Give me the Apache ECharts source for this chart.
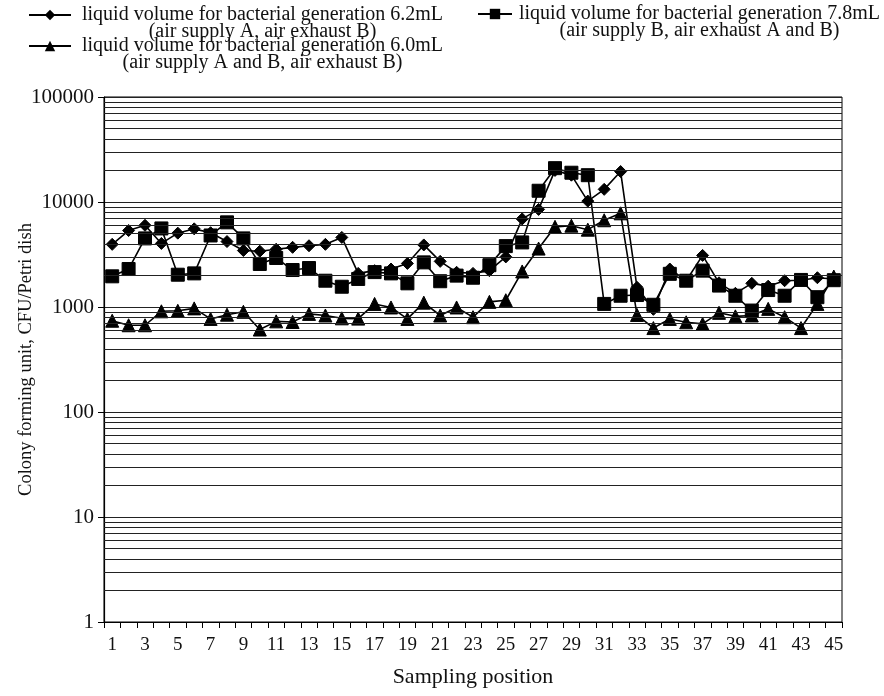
<!DOCTYPE html>
<html>
<head>
<meta charset="utf-8">
<script src="https://cdn.jsdelivr.net/npm/echarts@6/dist/echarts.min.js"></script>
<style>
  html, body { margin: 0; padding: 0; background: #fff; }
  #chart { width: 884px; height: 696px; }
</style>
</head>
<body>
<div id="chart"></div>
<script>
// Sampling positions 1..45
const positions = ['1','2','3','4','5','6','7','8','9','10','11','12','13','14','15',
  '16','17','18','19','20','21','22','23','24','25','26','27','28','29','30',
  '31','32','33','34','35','36','37','38','39','40','41','42','43','44','45'];

// CFU per Petri dish, 6.2 mL (air supply A, air exhaust B)
const vol62 = [3950, 5350, 6000, 4030, 5050, 5550, 5100, 4200, 3450, 3400,
  3550, 3700, 3830, 3950, 4600, 2090, 2220, 2300, 2600, 3900,
  2720, 2140, 2090, 2220, 3000, 6900, 8500, 20000, 18000, 10200,
  13200, 19500, 1540, 950, 2300, 1780, 3100, 1700, 1350, 1680,
  1580, 1780, 1800, 1900, 1850];

// CFU per Petri dish, 7.8 mL (air supply B, air exhaust A and B)
const vol78 = [1960, 2300, 4500, 5600, 2030, 2090, 4800, 6400, 4500, 2570,
  2930, 2250, 2350, 1780, 1560, 1850, 2150, 2090, 1680, 2660,
  1760, 1990, 1900, 2500, 3800, 4120, 12800, 21000, 19000, 18000,
  1070, 1280, 1300, 1050, 2070, 1780, 2220, 1600, 1280, 925,
  1450, 1280, 1810, 1240, 1800];

// CFU per Petri dish, 6.0 mL (air supply A and B, air exhaust B)
const vol60 = [740, 670, 670, 910, 920, 970, 770, 845, 900, 610,
  730, 720, 860, 830, 780, 775, 1070, 990, 770, 1100,
  830, 990, 800, 1120, 1160, 2180, 3600, 5800, 5950, 5450,
  6700, 7800, 840, 630, 770, 715, 690, 880, 815, 830,
  960, 800, 630, 1070, 1950];

// Log-axis decade labels
const yTickLabels = ['1', '10', '100', '1000', '10000', '100000'];

// Intermediate log grid values (2..9 of each decade)
const decades = [1, 10, 100, 1000, 10000];
const minorGridValues = [];
decades.forEach(d => { for (let k = 2; k <= 9; k++) minorGridValues.push(k * d); });

const seriesNames = [
  'liquid volume for bacterial generation 6.2mL',
  'liquid volume for bacterial generation 7.8mL',
  'liquid volume for bacterial generation 6.0mL'
];
const seriesNotes = {
  [seriesNames[0]]: '(air supply A, air exhaust B)',
  [seriesNames[1]]: '(air supply B, air exhaust A and B)',
  [seriesNames[2]]: '(air supply A and B, air exhaust B)'
};

const FONT = '"Liberation Serif", "Times New Roman", serif';

function legendAt(name, left, top, iconWidth, textGap) {
  return {
    data: [name],
    left: left,
    top: top,
    orient: 'horizontal',
    itemWidth: iconWidth,
    itemHeight: 13,
    selectedMode: false,
    formatter: n => '{a|' + n + '}\n{b|' + seriesNotes[n] + '}',
    textStyle: {
      fontFamily: FONT,
      color: '#111',
      padding: [17, 0, 0, textGap],
      rich: {
        a: { fontFamily: FONT, fontSize: 20, lineHeight: 17, color: '#111' },
        b: { fontFamily: FONT, fontSize: 20, lineHeight: 17, color: '#111', align: 'center' }
      }
    }
  };
}

function lineSeries(name, data, symbol, size) {
  return {
    name: name,
    type: 'line',
    data: data,
    symbol: symbol,
    symbolSize: size,
    showAllSymbol: true,
    lineStyle: { color: '#000', width: 1.6 },
    itemStyle: { color: '#000', borderColor: '#000' },
    emphasis: { disabled: true },
    animation: false
  };
}

const chart = echarts.init(document.getElementById('chart'), null, { renderer: 'canvas' });

const diamond = lineSeries(seriesNames[0], vol62, 'diamond', 12);
diamond.markLine = {
  silent: true,
  symbol: ['none', 'none'],
  label: { show: false },
  lineStyle: { color: '#222', width: 1, type: 'solid' },
  emphasis: { disabled: true },
  animation: false,
  data: minorGridValues.map(v => ({ yAxis: v }))
};

chart.setOption({
  backgroundColor: '#fff',
  animation: false,
  textStyle: { fontFamily: FONT },
  legend: [
    legendAt(seriesNames[0], 23, 0, 42, 6),
    legendAt(seriesNames[2], 23, 31, 42, 6),
    legendAt(seriesNames[1], 472, -1, 34, 2)
  ],
  grid: {
    left: 104, right: 42, top: 97, bottom: 74,
    containLabel: false,
    outerBoundsMode: 'none',
    show: true, borderColor: '#000', borderWidth: 1, backgroundColor: 'transparent'
  },
  xAxis: {
    type: 'category',
    data: positions,
    boundaryGap: true,
    name: 'Sampling position',
    nameLocation: 'middle',
    nameGap: 44,
    nameMoveOverlap: false,
    nameTextStyle: { fontFamily: FONT, fontSize: 22, color: '#111' },
    axisLine: { show: true, lineStyle: { color: '#000', width: 1.2 } },
    axisTick: { show: true, interval: 0, length: 6, lineStyle: { color: '#000' } },
    axisLabel: { interval: 1, margin: 14, fontFamily: FONT, fontSize: 19, color: '#111' },
    splitLine: { show: false }
  },
  yAxis: {
    type: 'log',
    logBase: 10,
    min: 1,
    max: 100000,
    name: 'Colony forming unit, CFU/Petri dish',
    nameLocation: 'middle',
    nameGap: 68,
    nameRotate: 90,
    nameMoveOverlap: false,
    nameTextStyle: { fontFamily: FONT, fontSize: 18.5, color: '#111' },
    axisLine: { show: true, lineStyle: { color: '#000', width: 1.2 } },
    axisTick: { show: true, length: 6, lineStyle: { color: '#000' } },
    axisLabel: {
      margin: 10,
      fontFamily: FONT,
      fontSize: 21,
      color: '#111',
      formatter: v => yTickLabels[Math.round(Math.log10(v))]
    },
    splitLine: { show: true, lineStyle: { color: '#222', width: 1, type: 'solid' } },
    minorTick: { show: false },
    minorSplitLine: { show: false }
  },
  series: [
    diamond,
    lineSeries(seriesNames[1], vol78, 'rect', 13),
    lineSeries(seriesNames[2], vol60, 'triangle', 13)
  ]
});
</script>
</body>
</html>
